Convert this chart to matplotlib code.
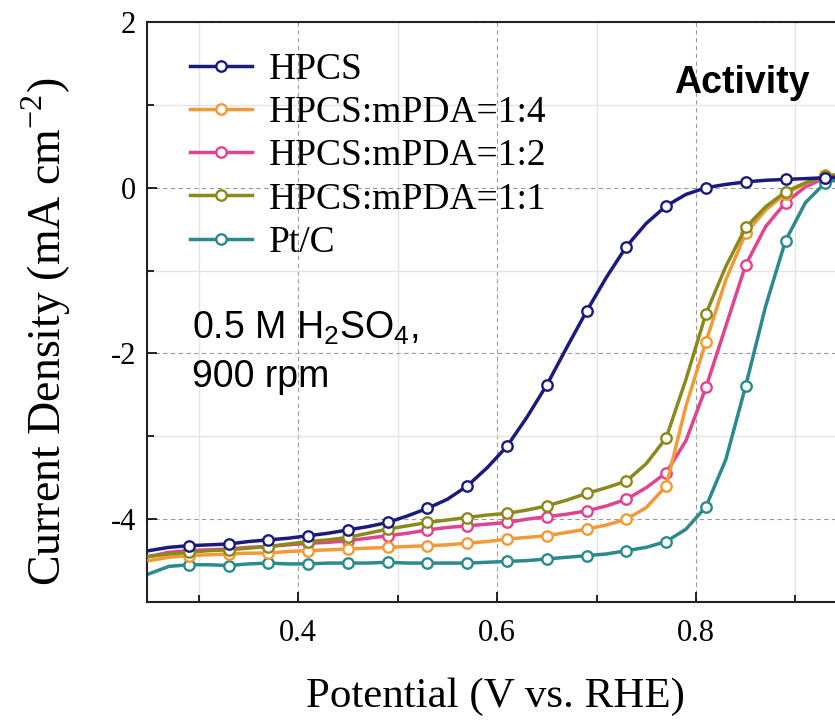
import matplotlib.pyplot as plt
from matplotlib.ticker import MultipleLocator

plt.rcParams['font.family'] = ['Liberation Serif', 'DejaVu Serif']
plt.rcParams['mathtext.fontset'] = 'custom'
plt.rcParams['mathtext.rm'] = 'Liberation Serif'
plt.rcParams['mathtext.sf'] = 'Liberation Sans'
plt.rcParams['axes.unicode_minus'] = False

# potential (V vs. RHE), sampled every 0.02 V; markers sit on every other point
potential = [0.25, 0.27, 0.29, 0.31, 0.33, 0.35, 0.37, 0.39, 0.41, 0.43,
             0.45, 0.47, 0.49, 0.51, 0.53, 0.55, 0.57, 0.59, 0.61, 0.63,
             0.65, 0.67, 0.69, 0.71, 0.73, 0.75, 0.77, 0.79, 0.81, 0.83,
             0.85, 0.87, 0.89, 0.91, 0.93, 0.95]

hpcs = [-4.38, -4.34, -4.32, -4.31, -4.30, -4.27, -4.25, -4.23, -4.20, -4.17,
        -4.13, -4.09, -4.04, -3.96, -3.87, -3.76, -3.60, -3.38, -3.12, -2.77,
        -2.38, -1.93, -1.49, -1.08, -0.71, -0.43, -0.22, -0.08, 0.00, 0.04,
        0.07, 0.09, 0.10, 0.11, 0.12, 0.13]

mpda_14 = [-4.50, -4.46, -4.44, -4.43, -4.42, -4.41, -4.41, -4.39, -4.38, -4.37,
           -4.36, -4.35, -4.34, -4.33, -4.32, -4.31, -4.29, -4.27, -4.24, -4.22,
           -4.20, -4.16, -4.12, -4.07, -4.00, -3.86, -3.60, -2.63, -1.86, -1.11,
           -0.55, -0.27, -0.07, 0.05, 0.15, 0.16]

mpda_12 = [-4.45, -4.40, -4.38, -4.37, -4.36, -4.34, -4.33, -4.31, -4.29, -4.28,
           -4.26, -4.23, -4.20, -4.17, -4.13, -4.10, -4.08, -4.06, -4.04, -4.00,
           -3.97, -3.94, -3.90, -3.84, -3.76, -3.62, -3.44, -3.05, -2.41, -1.67,
           -0.93, -0.47, -0.18, 0.01, 0.12, 0.15]

mpda_11 = [-4.45, -4.42, -4.40, -4.38, -4.37, -4.35, -4.33, -4.30, -4.27, -4.25,
           -4.22, -4.17, -4.12, -4.08, -4.04, -4.01, -3.98, -3.95, -3.93, -3.89,
           -3.84, -3.77, -3.69, -3.62, -3.54, -3.33, -3.02, -2.31, -1.52, -0.95,
           -0.48, -0.23, -0.05, 0.06, 0.14, 0.16]

ptc = [-4.66, -4.57, -4.55, -4.55, -4.56, -4.54, -4.53, -4.54, -4.54, -4.53,
       -4.53, -4.53, -4.52, -4.53, -4.53, -4.53, -4.53, -4.52, -4.51, -4.50,
       -4.48, -4.46, -4.44, -4.42, -4.38, -4.34, -4.27, -4.12, -3.85, -3.28,
       -2.39, -1.43, -0.64, -0.18, 0.06, 0.12]

labels = ['HPCS', 'HPCS:mPDA=1:4', 'HPCS:mPDA=1:2', 'HPCS:mPDA=1:1', 'Pt/C']
colors = ['#1b1b7c', '#f29a36', '#e0448e', '#8a8a1c', '#2a8a8c']
zorders = [6, 4, 3, 5, 2]

fig = plt.figure(figsize=(8.35, 7.21), dpi=100)
ax = fig.add_axes([0.176, 0.165, 0.83, 0.8045])

for y, lab, c, z in zip([hpcs, mpda_14, mpda_12, mpda_11, ptc], labels, colors, zorders):
    ax.plot(potential, y, color=c, lw=2.5, marker='o', ms=7.5, mfc='white',
            mec=c, mew=1.7, markevery=(2, 2), label=lab, zorder=z)

ax.set_xlim(0.248, 0.9448)
ax.set_ylim(-5, 2)
ax.xaxis.set_minor_locator(MultipleLocator(0.1))
ax.yaxis.set_major_locator(MultipleLocator(2))
ax.yaxis.set_minor_locator(MultipleLocator(1))
ax.set_xticks([0.4, 0.6, 0.8])
ax.set_xticklabels(['0.4', '0.6', '0.8'])

ax.tick_params(which='both', direction='in', labelsize=22, width=1.2)
ax.tick_params(which='major', length=7)
ax.tick_params(which='minor', length=5)
ax.tick_params(axis='x', pad=12)
ax.tick_params(axis='y', pad=8)

ax.grid(which='major', color='#9a9a9a', ls=(0, (4, 3)), lw=0.8, zorder=0)
ax.grid(which='minor', color='#e4e4e4', lw=1.0, zorder=0)
ax.set_axisbelow(True)

for s in ['left', 'bottom', 'top']:
    ax.spines[s].set_linewidth(1.5)
    ax.spines[s].set_color('#222222')
ax.spines['right'].set_visible(False)

ax.set_xlabel('Potential (V vs. RHE)', fontsize=31)
ax.set_ylabel('Current Density (mA cm$^{-2}$)', fontsize=33)
ax.xaxis.set_label_coords(0.503, -0.13)
ax.yaxis.set_label_coords(-0.106, 0.466)

leg = ax.legend(loc='upper left', bbox_to_anchor=(0.062, 0.947), frameon=False,
                fontsize=27, handlelength=1.65, handletextpad=0.45,
                labelspacing=0.23, borderpad=0, borderaxespad=0)

ax.text(0.858, 0.895, 'Activity', transform=ax.transAxes, fontsize=27,
        fontweight='bold', family='Liberation Sans', ha='center', va='center')
ax.text(0.065, 0.472, '0.5 M H$\\mathsf{_2}$SO$\\mathsf{_4}$,', transform=ax.transAxes,
        fontsize=27, family='Liberation Sans', ha='left', va='center')
ax.text(0.065, 0.388, '900 rpm', transform=ax.transAxes,
        fontsize=27, family='Liberation Sans', ha='left', va='center')

fig.savefig('out.png', dpi=100)
